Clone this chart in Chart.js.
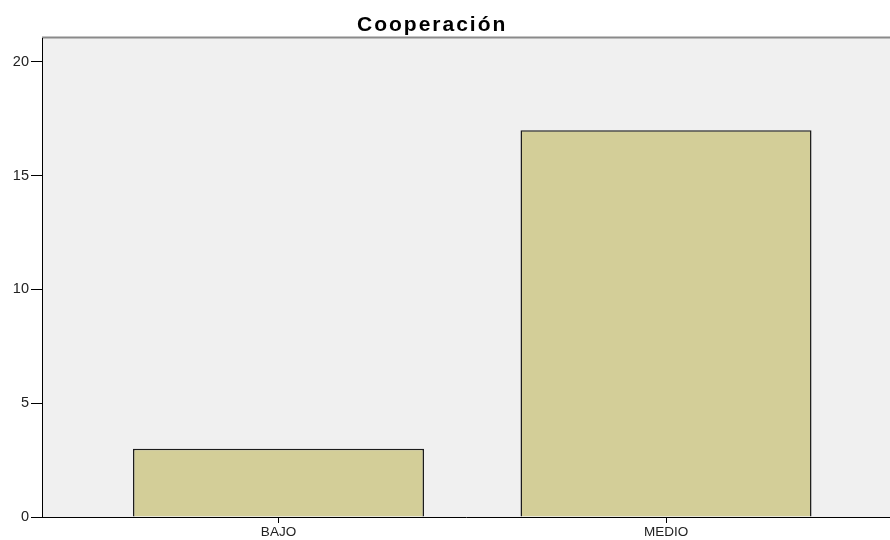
<!DOCTYPE html>
<html>
<head>
<meta charset="utf-8">
<script src="https://cdn.jsdelivr.net/npm/chart.js@4"></script>
<style>
  html, body { margin: 0; padding: 0; background: #fff; }
  #wrap { width: 890px; height: 540px; }
</style>
</head>
<body>
<div id="wrap"><canvas id="coopChart"></canvas></div>
<script>
const chartTitle = "Cooperación";
const categories = ["BAJO", "MEDIO"];
const counts = [3, 17];
const yTicks = [0, 5, 10, 15, 20];

const FONT = "'Liberation Sans', Arial, sans-serif";

// fondo gris del area de trazado + linea superior + titulo
const plotBackground = {
  id: "plotBackground",
  beforeDraw(chart) {
    const { ctx, chartArea: a } = chart;
    ctx.save();
    ctx.fillStyle = "#f0f0f0";
    ctx.fillRect(a.left, a.top, a.right - a.left, a.bottom - a.top);
    ctx.strokeStyle = "#8a8a8a";
    ctx.lineWidth = 2;
    ctx.beginPath();
    ctx.moveTo(a.left, a.top - 0.5);
    ctx.lineTo(a.right, a.top - 0.5);
    ctx.stroke();
    ctx.restore();
  },
  afterDraw(chart) {
    const ctx = chart.ctx;
    ctx.save();
    ctx.font = "bold 21px " + FONT;
    ctx.letterSpacing = "2px";
    ctx.fillStyle = "#000";
    ctx.textAlign = "left";
    ctx.textBaseline = "alphabetic";
    ctx.fillText(chartTitle, 357, 31);
    ctx.restore();
  }
};

new Chart(document.getElementById("coopChart"), {
  type: "bar",
  data: {
    datasets: [{
      data: counts.map((v, i) => ({ x: i, y: v })),
      backgroundColor: "#d3ce98",
      borderColor: "#1c1c1c",
      borderWidth: 1.5,
      categoryPercentage: 1,
      barPercentage: 0.751
    }]
  },
  options: {
    responsive: true,
    maintainAspectRatio: false,
    animation: false,
    layout: { padding: { top: 38, left: 0, right: 0, bottom: 0 } },
    plugins: {
      legend: { display: false },
      title: { display: false },
      tooltip: { enabled: false }
    },
    scales: {
      x: {
        type: "linear",
        offset: false,
        min: -0.6103,
        max: 1.578,
        afterBuildTicks: s => { s.ticks = categories.map((c, i) => ({ value: i })); },
        afterFit: s => { s.height = 23; },
        grid: { offset: false, drawOnChartArea: false, tickLength: 6, color: "#000" },
        border: { color: "#000", width: 1 },
        ticks: {
          padding: 1,
          color: "#222",
          font: { size: 13.5, family: FONT },
          callback: v => categories[v]
        }
      },
      y: {
        min: 0,
        max: 21.05,
        afterBuildTicks: s => { s.ticks = yTicks.map(v => ({ value: v })); },
        afterFit: s => { s.width = 42; },
        grid: { drawOnChartArea: false, tickLength: 11, color: "#000" },
        border: { color: "#000", width: 1 },
        ticks: {
          padding: 2,
          color: "#222",
          font: { size: 14.5, family: FONT }
        }
      }
    }
  },
  plugins: [plotBackground]
});
</script>
</body>
</html>
